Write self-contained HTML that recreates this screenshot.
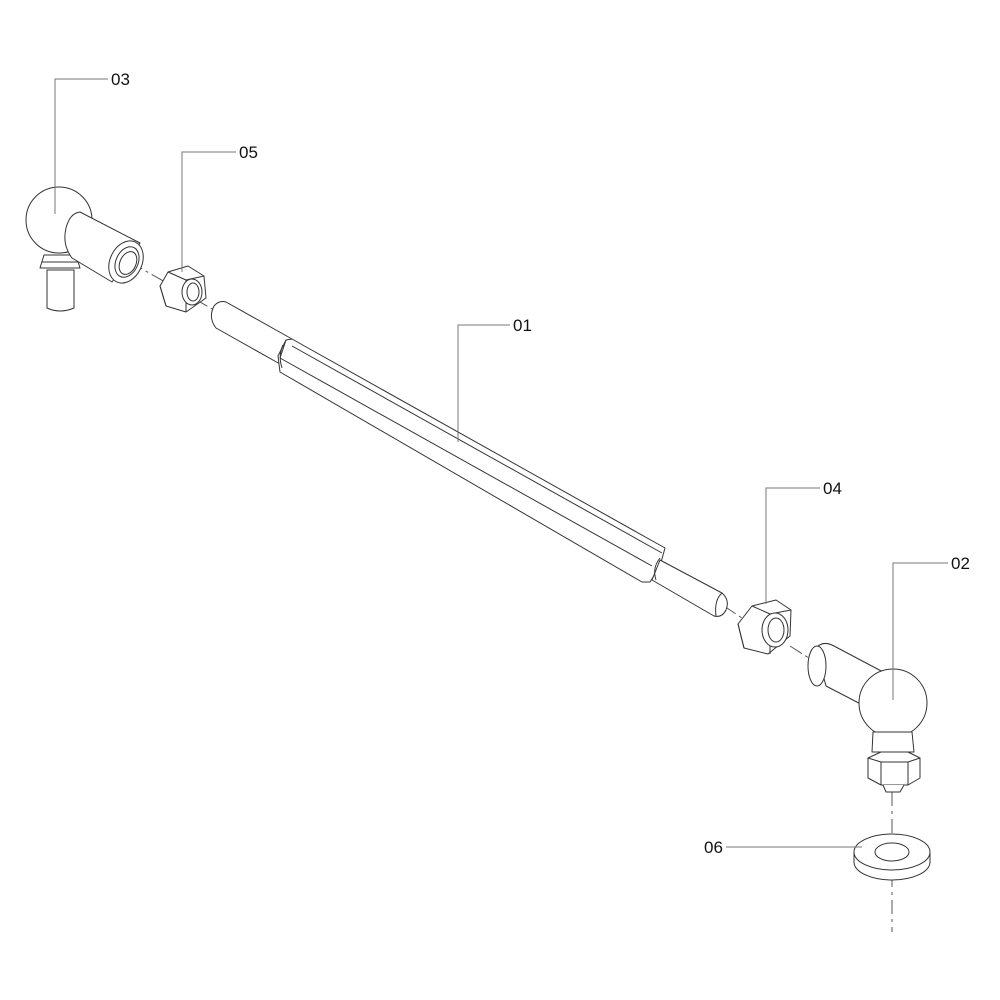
<!DOCTYPE html>
<html><head><meta charset="utf-8"><style>html,body{margin:0;padding:0;background:#fff}svg{display:block}text{font-family:"Liberation Sans",sans-serif;font-size:17px;fill:#111}</style></head>
<body>
<svg width="1000" height="1000" viewBox="0 0 1000 1000" xmlns="http://www.w3.org/2000/svg">
<g fill="#fff" stroke="#333" stroke-width="1" stroke-linejoin="round">
<!-- axis dashed -->
<path d="M130 262 L214 310 M724 606 L742 618 M790 646 L812 660" stroke="#555" stroke-dasharray="14 4 3 4"/>
<path d="M892 792 L892 932" stroke="#555" stroke-dasharray="14 5 3 5"/>

<!-- left thread rod -->
<path d="M226 302 L292 339 L280 364 L216 328 Q208 318 214 306 Q219 300 226 302 Z"/>
<!-- hex rod -->
<path d="M286 340 L292 339 L665 548 L660 566 L650 582 L642 582 L280 372 L278 356 Z"/>
<path d="M292 346 L662 553 M280 358 L652 566 M286 340 L280 358"/>
<path d="M283 345 Q278 356 282 368" fill="none"/>
<!-- right thread rod -->
<path d="M660 560 L722 593 Q730 600 726 610 Q722 618 714 616 L652 580 Z"/>
<path d="M722 593 Q714 600 716 616" fill="none"/>
<path d="M660 558 Q652 568 656 580" fill="none"/>

<!-- nut 05 -->
<path d="M168 272 L188 266 L204 276 L206 298 L186 312 L166 306 L160 286 Z"/>
<path d="M168 272 L186 280 L204 276 M186 280 L186 312 M160 286 L166 306"/>
<ellipse cx="192" cy="292" rx="10" ry="13"/>
<ellipse cx="193" cy="292" rx="6" ry="9"/>
<!-- nut 04 -->
<path d="M752 606 L776 600 L791 610 L790 636 L768 654 L744 648 L738 624 Z"/>
<path d="M752 606 L770 614 L791 610 M770 614 L770 654 M738 624 L744 648"/>
<ellipse cx="775" cy="630" rx="13" ry="17"/>
<ellipse cx="776" cy="630" rx="8" ry="12"/>

<!-- ball joint 03 -->
<path d="M44 255 L76 255 L80 268 L40 268 Z"/>
<path d="M42 262 L78 262"/>
<path d="M47 270 L74 270 L74 308 Q60 314 47 308 Z"/>
<circle cx="59" cy="220" r="33"/>
<path d="M80 212 L140 243 L112 282 L72 258 Q62 245 66 228 Q70 213 80 212 Z"/>
<ellipse cx="126" cy="262" rx="16" ry="22" transform="rotate(25 126 262)"/>
<ellipse cx="127" cy="262" rx="11" ry="16" transform="rotate(25 127 262)"/>
<ellipse cx="128" cy="263" rx="8" ry="12" transform="rotate(25 128 263)"/>

<!-- ball joint 02 -->
<path d="M816 648 Q823 640 834 646 L885 673 L878 713 L826 686 Z"/>
<ellipse cx="817" cy="666" rx="9" ry="20"/>
<circle cx="893" cy="703" r="34"/>
<path d="M873 732 L912 732 L914 752 L872 752 Z"/>
<path d="M868 758 L881 752 L908 752 L920 758 L920 778 L908 785 L881 785 L868 778 Z"/>
<path d="M881 762 L908 762 M881 762 L881 785 M908 762 L908 785 M868 758 L881 762 M920 758 L908 762"/>
<path d="M883 785 L886 792 L900 792 L904 785"/>
<!-- washer 06 -->
<path d="M854 852 L854 862 A38 18 0 0 0 930 862 L930 852"/>
<ellipse cx="892" cy="852" rx="38" ry="18"/>
<ellipse cx="892" cy="852" rx="17" ry="9"/>
</g>

<!-- leaders -->
<g fill="none" stroke="#777" stroke-width="1">
<path d="M55 214 L55 79 L108 79"/>
<path d="M182 272 L182 152 L236 152"/>
<path d="M458 442 L458 325 L510 325"/>
<path d="M766 604 L766 488 L820 488"/>
<path d="M893 700 L893 563 L948 563"/>
<path d="M726 847 L862 847"/>
</g>
<text x="111" y="85">03</text>
<text x="239" y="158">05</text>
<text x="513" y="331">01</text>
<text x="823" y="494">04</text>
<text x="951" y="569">02</text>
<text x="704" y="853">06</text>
</svg>
</body></html>
